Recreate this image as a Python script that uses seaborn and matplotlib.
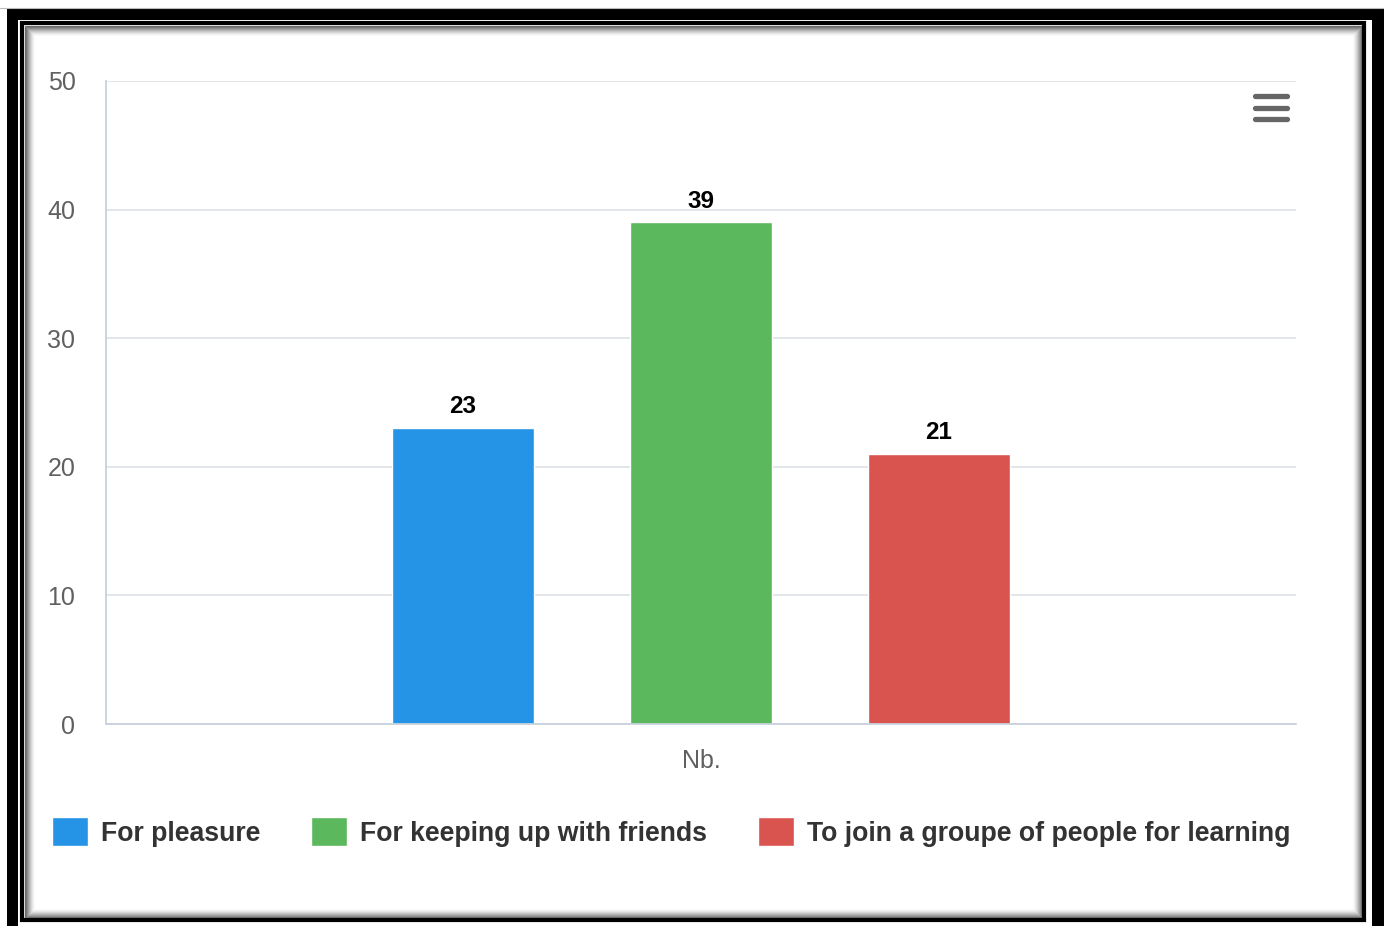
import matplotlib
matplotlib.use("Agg")
import matplotlib.pyplot as plt
from matplotlib.patches import Rectangle
import seaborn as sns
import pandas as pd

# ---- data ----
categories = ["For pleasure", "For keeping up with friends", "To join a groupe of people for learning"]
values = [23, 39, 21]
group_label = "Nb."
colors = ["#2594e6", "#5cb85c", "#d9534f"]
yticks = [0, 10, 20, 30, 40, 50]

df = pd.DataFrame({"group": [group_label] * len(categories), "category": categories, "value": values})

sns.set_theme(style="white")
plt.rcParams["font.family"] = ["Liberation Sans", "DejaVu Sans"]

W, H = 1384, 926
fig = plt.figure(figsize=(W / 100, H / 100), dpi=100)
fig.patch.set_facecolor("white")

# ---- decorative frame (pixel coordinates background axes) ----
bg = fig.add_axes([0, 0, 1, 1], zorder=0)
bg.set_xlim(0, W)
bg.set_ylim(H, 0)
bg.axis("off")
# outer thick black band (left, top, right)
bg.add_patch(Rectangle((7, 9), 11, H, facecolor="black", edgecolor="none"))
bg.add_patch(Rectangle((7, 9), W, 11, facecolor="black", edgecolor="none"))
bg.add_patch(Rectangle((1372, 9), 20, H, facecolor="black", edgecolor="none"))
bg.plot([0, W], [8, 8], color="#bbbbbb", lw=0.8)
# inner black line
bg.add_patch(Rectangle((22, 23), 1364 - 22, 920 - 23, facecolor="none", edgecolor="black", linewidth=3.0))
# inner shadow gradient
for i in range(10):
    a = 0.55 * (1 - i / 10) ** 1.6
    bg.add_patch(Rectangle((24.5 + i, 25.5 + i), 1361.5 - 24.5 - 2 * i, 917.5 - 25.5 - 2 * i,
                           facecolor="none", edgecolor=(0, 0, 0, a), linewidth=0.9))
# hamburger menu icon
for yy in (96, 108, 119):
    bg.plot([1255, 1287], [yy, yy], color="#666666", lw=3.8, solid_capstyle="round")

# ---- main chart ----
left, right, top, bottom = 106, 1296, 81, 724
ax = fig.add_axes([left / W, 1 - bottom / H, (right - left) / W, (bottom - top) / H], zorder=1)
ax.set_facecolor("none")

sns.barplot(data=df, x="group", y="value", hue="category", hue_order=categories,
            palette=colors, width=0.6, gap=0.405, saturation=1, ax=ax, legend=True)

ax.set_xlim(-0.5, 0.5)
ax.set_ylim(0, 50)
ax.set_yticks(yticks)
ax.set_yticklabels([str(t) for t in yticks])
ax.grid(axis="y", color="#dde2e8", linewidth=1.2)
ax.set_axisbelow(True)
for s in ("top", "right"):
    ax.spines[s].set_visible(False)
for s in ("left", "bottom"):
    ax.spines[s].set_color("#c8d2dc")
    ax.spines[s].set_linewidth(1.3)

ax.tick_params(axis="y", length=0, pad=22, labelsize=18, labelcolor="#606060")
ax.set_xticks([0])
ax.set_xticklabels([group_label])
ax.tick_params(axis="x", which="major", length=0, pad=18, labelsize=18, labelcolor="#606060")
ax.set_xticks([-0.5, 0.5], minor=True)
ax.tick_params(axis="x", which="minor", length=15, width=1.3, color="#c8d2dc")
ax.set_xlabel("")
ax.set_ylabel("")

for cont in ax.containers:
    ax.bar_label(cont, fmt="%d", padding=7, fontsize=17.5, fontweight="bold", color="black")

handles, labels = ax.get_legend_handles_labels()
ax.get_legend().remove()
fig.legend(handles, labels, loc="center", bbox_to_anchor=(0.485, 1 - 832 / H), ncol=3,
           frameon=False, prop={"weight": "bold", "size": 19.2},
           handlelength=1.35, handleheight=1.3, handletextpad=0.5, columnspacing=1.9,
           labelcolor="#333333")

fig.savefig("out.png", dpi=100, facecolor="white")
